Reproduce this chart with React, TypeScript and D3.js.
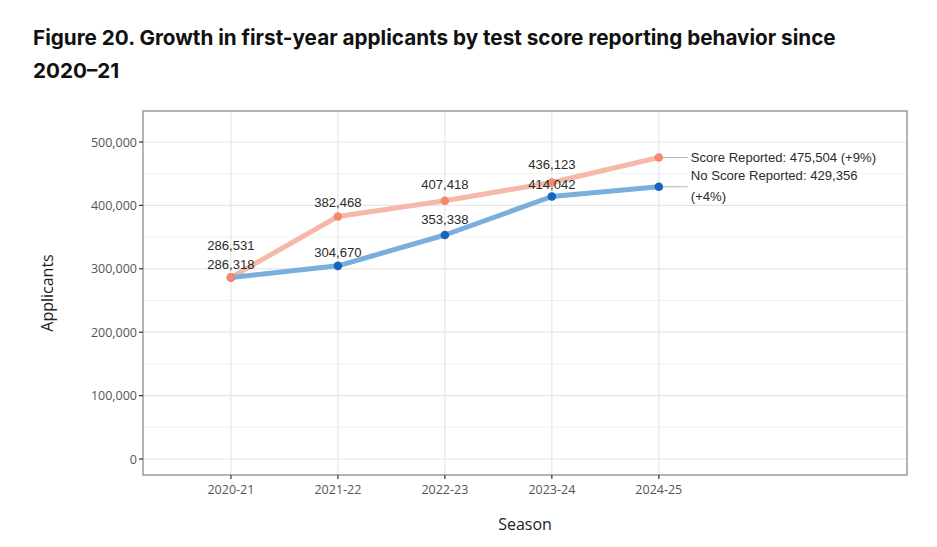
import React from "react";
import * as d3 from "d3";

const seasons = ["2020-21", "2021-22", "2022-23", "2023-24", "2024-25"];
const scoreReported = [286531, 382468, 407418, 436123, 475504];
const noScoreReported = [286318, 304670, 353338, 414042, 429356];
const yTicks = [0, 100000, 200000, 300000, 400000, 500000];
const yMinor = [50000, 150000, 250000, 350000, 450000];
const endLabels = ["Score Reported: 475,504 (+9%)", "No Score Reported: 429,356", "(+4%)"];

// label vertical offsets (px above the point) – layout only
const scoreDy = [-27, -10, -12, -14];
const noScoreDy = [-8, -9, -11, -8];

const W = 937, H = 547;
const panel = { left: 143, right: 907, top: 111, bottom: 475 };

export default function App() {
  const x = d3.scaleLinear().domain([-0.822, 6.32]).range([panel.left, panel.right]);
  const y = d3.scaleLinear().domain([-25200, 548900]).range([panel.bottom, panel.top]);
  const line = d3
    .line<number>()
    .x((_, i) => x(i))
    .y((d) => y(d));
  const fmt = d3.format(",");
  const last = seasons.length - 1;
  const labelFont = "'Liberation Sans', Arial, sans-serif";
  const tickFont = "'Open Sans', 'Noto Sans', sans-serif";
  const lfs = 13.1;

  return (
    <svg width={W} height={H} style={{ position: "absolute", left: 0, top: 0, background: "#fff" }}>
      <text x={33} y={45} fontFamily="Inter, 'Open Sans', sans-serif" fontWeight={700} fontSize={20.7} fill="#111">
        Figure 20. Growth in first-year applicants by test score reporting behavior since
      </text>
      <text x={33} y={78} fontFamily="Inter, 'Open Sans', sans-serif" fontWeight={700} fontSize={20.7} fill="#111">
        2020–21
      </text>

      {/* grid */}
      {yMinor.map((v) => (
        <line key={"m" + v} x1={panel.left} x2={panel.right} y1={y(v)} y2={y(v)} stroke="#f2f2f2" strokeWidth={1} />
      ))}
      {yTicks.map((v) => (
        <line key={"g" + v} x1={panel.left} x2={panel.right} y1={y(v)} y2={y(v)} stroke="#e6e6e6" strokeWidth={1.2} />
      ))}
      {seasons.map((s, i) => (
        <line key={"v" + s} x1={x(i)} x2={x(i)} y1={panel.top} y2={panel.bottom} stroke="#e6e6e6" strokeWidth={1.2} />
      ))}

      {/* lines */}
      <path d={line(scoreReported) || ""} fill="none" stroke="#f6b8a8" strokeWidth={5} strokeLinejoin="round" />
      <path d={line(noScoreReported) || ""} fill="none" stroke="#7aaedd" strokeWidth={5} strokeLinejoin="round" />

      {/* leader lines */}
      <line x1={x(last)} x2={x(last) + 29} y1={y(scoreReported[last])} y2={y(scoreReported[last])} stroke="#b5b5b5" strokeWidth={1} />
      <line x1={x(last)} x2={x(last) + 29} y1={y(noScoreReported[last])} y2={y(noScoreReported[last])} stroke="#b5b5b5" strokeWidth={1} />

      {/* points */}
      {noScoreReported.map((v, i) => (
        <circle key={"np" + i} cx={x(i)} cy={y(v)} r={4.3} fill="#1565c0" />
      ))}
      {scoreReported.map((v, i) => (
        <circle key={"sp" + i} cx={x(i)} cy={y(v)} r={4.3} fill="#f4896c" />
      ))}

      {/* value labels */}
      {scoreReported.slice(0, last).map((v, i) => (
        <text key={"sl" + i} x={x(i)} y={y(v) + scoreDy[i]} textAnchor="middle" fontFamily={labelFont} fontSize={lfs} fill="#2b2b2b">
          {fmt(v)}
        </text>
      ))}
      {noScoreReported.slice(0, last).map((v, i) => (
        <text key={"nl" + i} x={x(i)} y={y(v) + noScoreDy[i]} textAnchor="middle" fontFamily={labelFont} fontSize={lfs} fill="#2b2b2b">
          {fmt(v)}
        </text>
      ))}
      <text x={x(last) + 32} y={y(scoreReported[last]) + 4.5} fontFamily={labelFont} fontSize={lfs} fill="#2b2b2b">
        {endLabels[0]}
      </text>
      <text x={x(last) + 32} y={y(noScoreReported[last]) - 6.5} fontFamily={labelFont} fontSize={lfs} fill="#2b2b2b">
        {endLabels[1]}
      </text>
      <text x={x(last) + 32} y={y(noScoreReported[last]) + 14.5} fontFamily={labelFont} fontSize={lfs} fill="#2b2b2b">
        {endLabels[2]}
      </text>

      {/* panel border */}
      <rect x={panel.left} y={panel.top} width={panel.right - panel.left} height={panel.bottom - panel.top} fill="none" stroke="#8c8c8c" strokeWidth={1.3} />

      {/* y axis */}
      {yTicks.map((v) => (
        <g key={"yt" + v}>
          <line x1={panel.left - 4} x2={panel.left} y1={y(v)} y2={y(v)} stroke="#333" strokeWidth={1.2} />
          <text x={panel.left - 6} y={y(v) + 4.5} textAnchor="end" fontFamily={tickFont} fontSize={12.5} fill="#555">
            {fmt(v)}
          </text>
        </g>
      ))}
      {/* x axis */}
      {seasons.map((s, i) => (
        <g key={"xt" + s}>
          <line x1={x(i)} x2={x(i)} y1={panel.bottom} y2={panel.bottom + 4} stroke="#333" strokeWidth={1.2} />
          <text x={x(i)} y={panel.bottom + 19} textAnchor="middle" fontFamily={tickFont} fontSize={12.5} fill="#555">
            {s}
          </text>
        </g>
      ))}

      <text x={(panel.left + panel.right) / 2} y={530} textAnchor="middle" fontFamily={tickFont} fontSize={16} fill="#222">
        Season
      </text>
      <text transform={`translate(53, ${(panel.top + panel.bottom) / 2}) rotate(-90)`} textAnchor="middle" fontFamily={tickFont} fontSize={16} fill="#222">
        Applicants
      </text>
    </svg>
  );
}
